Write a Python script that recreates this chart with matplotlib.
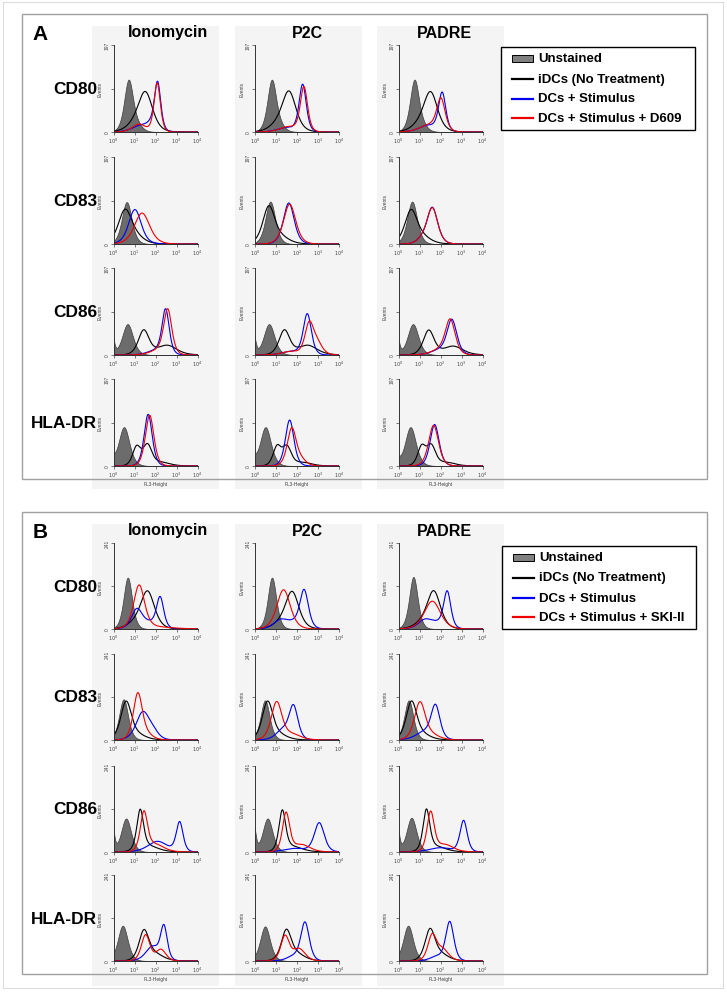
import numpy as np
import matplotlib
matplotlib.use("Agg")
import matplotlib.pyplot as plt
from matplotlib.patches import Rectangle
from matplotlib.ticker import NullLocator

plt.rcParams['font.family'] = ['Liberation Sans', 'DejaVu Sans']

# ---------------- data ----------------
columns = ["Ionomycin", "P2C", "PADRE"]
markers = ["CD80", "CD83", "CD86", "HLA-DR"]
legend_A = ["Unstained", "iDCs (No Treatment)", "DCs + Stimulus", "DCs + Stimulus + D609"]
legend_B = ["Unstained", "iDCs (No Treatment)", "DCs + Stimulus", "DCs + Stimulus + SKI-II"]
x_ticklabels = [r"$10^{0}$", r"$10^{1}$", r"$10^{2}$", r"$10^{3}$", r"$10^{4}$"]
A_ymax = 197
B_ymax = 241

# Each curve: list of peaks (log10 position, half-width scale in decades, events)
# order per column: [Unstained, iDCs, DCs+Stimulus, DCs+Stimulus+inhibitor]
A_CD80 = {
    "Ionomycin": [[(0.72, 0.20, 116), (1.15, 0.24, 10)],
                  [(1.52, 0.32, 86), (1.0, 0.4, 12)],
                  [(2.1, 0.14, 106), (1.3, 0.4, 14), (1.8, 0.24, 12)],
                  [(2.08, 0.14, 110), (1.22, 0.3, 18)]],
    "P2C":       [[(0.8, 0.20, 116), (1.2, 0.24, 8)],
                  [(1.62, 0.31, 88), (1.05, 0.4, 12)],
                  [(2.27, 0.16, 106), (1.5, 0.4, 10)],
                  [(2.33, 0.16, 100), (1.6, 0.4, 12)]],
    "PADRE":     [[(0.76, 0.20, 116), (1.15, 0.24, 8)],
                  [(1.53, 0.31, 86), (1.0, 0.4, 12)],
                  [(2.08, 0.16, 86), (1.4, 0.4, 15)],
                  [(2.02, 0.19, 72), (1.4, 0.4, 15)]],
}
A_CD83 = {
    "Ionomycin": [[(0.63, 0.22, 95)],
                  [(0.55, 0.30, 74), (1.1, 0.38, 12)],
                  [(1.02, 0.28, 78)],
                  [(1.36, 0.34, 70)]],
    "P2C":       [[(0.73, 0.22, 96)],
                  [(0.66, 0.27, 83), (1.3, 0.38, 12)],
                  [(1.61, 0.24, 93)],
                  [(1.65, 0.27, 90)]],
    "PADRE":     [[(0.65, 0.22, 96)],
                  [(0.6, 0.28, 74), (1.2, 0.38, 12)],
                  [(1.61, 0.24, 82), (1.1, 0.24, 8)],
                  [(1.61, 0.24, 81), (1.1, 0.24, 8)]],
}
A_CD86 = {
    "Ionomycin": [[(-0.05, 0.08, 38), (0.67, 0.24, 70)],
                  [(1.44, 0.24, 55), (2.55, 0.43, 22)],
                  [(2.48, 0.16, 100), (2.0, 0.38, 10)],
                  [(2.58, 0.18, 100), (2.1, 0.38, 10)]],
    "P2C":       [[(-0.05, 0.08, 38), (0.67, 0.24, 70)],
                  [(1.4, 0.24, 55), (2.5, 0.43, 22)],
                  [(2.49, 0.18, 92), (1.7, 0.4, 8)],
                  [(2.58, 0.19, 66), (2.95, 0.24, 26), (1.7, 0.4, 8)]],
    "PADRE":     [[(-0.05, 0.08, 38), (0.69, 0.24, 70)],
                  [(1.44, 0.24, 55), (2.6, 0.43, 20)],
                  [(2.54, 0.22, 78), (1.9, 0.38, 10)],
                  [(2.46, 0.22, 78), (1.9, 0.38, 10)]],
}
A_HLADR = {
    "Ionomycin": [[(0.5, 0.24, 88), (-0.05, 0.11, 12)],
                  [(1.1, 0.18, 42), (1.62, 0.2, 46), (2.3, 0.38, 8)],
                  [(1.65, 0.18, 117)],
                  [(1.72, 0.19, 115)]],
    "P2C":       [[(0.5, 0.24, 88), (-0.05, 0.11, 12)],
                  [(1.05, 0.18, 42), (1.52, 0.2, 42), (2.3, 0.38, 8)],
                  [(1.65, 0.19, 104)],
                  [(1.75, 0.2, 84), (2.2, 0.24, 12)]],
    "PADRE":     [[(0.57, 0.24, 88), (-0.05, 0.11, 12)],
                  [(1.1, 0.18, 42), (1.56, 0.2, 44), (2.3, 0.38, 8)],
                  [(1.72, 0.2, 94)],
                  [(1.67, 0.22, 92)]],
}
B_CD80 = {
    "Ionomycin": [[(0.68, 0.19, 144)],
                  [(1.62, 0.31, 103), (1.0, 0.38, 12)],
                  [(1.11, 0.24, 52), (2.22, 0.16, 84), (1.7, 0.38, 16)],
                  [(1.22, 0.24, 120), (2.0, 0.74, 6)]],
    "P2C":       [[(0.81, 0.19, 144)],
                  [(1.77, 0.3, 101), (1.2, 0.38, 12)],
                  [(2.34, 0.19, 104), (1.2, 0.3, 22), (1.8, 0.38, 16)],
                  [(1.36, 0.3, 110)]],
    "PADRE":     [[(0.71, 0.19, 146)],
                  [(1.68, 0.3, 103), (1.1, 0.38, 12)],
                  [(1.24, 0.3, 22), (2.32, 0.16, 100), (1.8, 0.38, 15)],
                  [(1.61, 0.36, 78)]],
}
B_CD83 = {
    "Ionomycin": [[(0.48, 0.2, 114)],
                  [(0.6, 0.24, 105), (1.2, 0.38, 12)],
                  [(1.40, 0.3, 77), (1.9, 0.24, 16)],
                  [(1.16, 0.2, 128), (1.6, 0.3, 12)]],
    "P2C":       [[(0.48, 0.2, 111)],
                  [(0.6, 0.24, 105), (1.2, 0.38, 12)],
                  [(1.83, 0.2, 92), (1.3, 0.3, 26)],
                  [(1.03, 0.24, 105), (1.8, 0.38, 15)]],
    "PADRE":     [[(0.49, 0.2, 111)],
                  [(0.62, 0.24, 105), (1.2, 0.38, 12)],
                  [(1.76, 0.2, 92), (1.2, 0.38, 21)],
                  [(1.02, 0.24, 103), (1.6, 0.38, 12)]],
}
B_CD86 = {
    "Ionomycin": [[(-0.05, 0.08, 66), (0.6, 0.22, 94)],
                  [(1.27, 0.15, 110), (1.7, 0.43, 16)],
                  [(2.1, 0.43, 30), (3.15, 0.15, 82)],
                  [(1.45, 0.16, 107), (2.0, 0.38, 21)]],
    "P2C":       [[(-0.05, 0.08, 66), (0.6, 0.22, 94)],
                  [(1.3, 0.15, 110), (1.8, 0.43, 15)],
                  [(1.9, 0.49, 10), (3.06, 0.22, 81)],
                  [(1.48, 0.16, 107), (2.2, 0.38, 21)]],
    "PADRE":     [[(-0.05, 0.08, 66), (0.62, 0.22, 96)],
                  [(1.33, 0.15, 112), (1.8, 0.43, 15)],
                  [(2.0, 0.49, 12), (3.1, 0.16, 87)],
                  [(1.53, 0.16, 109), (2.2, 0.38, 21)]],
}
B_HLADR = {
    "Ionomycin": [[(0.44, 0.22, 99)],
                  [(1.45, 0.22, 81), (2.0, 0.38, 18)],
                  [(2.4, 0.15, 92), (1.85, 0.3, 40)],
                  [(1.53, 0.19, 73), (2.26, 0.22, 32)]],
    "P2C":       [[(0.48, 0.22, 97)],
                  [(1.49, 0.22, 81), (2.0, 0.38, 18)],
                  [(2.38, 0.19, 107), (1.8, 0.3, 12)],
                  [(1.43, 0.19, 69), (2.1, 0.27, 34)]],
    "PADRE":     [[(0.46, 0.22, 99)],
                  [(1.5, 0.22, 83), (2.0, 0.38, 18)],
                  [(2.44, 0.18, 109), (1.8, 0.3, 12)],
                  [(1.6, 0.19, 69), (2.1, 0.27, 32)]],
}

# ---------------- layout ----------------
W, H = 727, 995
fig = plt.figure(figsize=(W / 100, H / 100), dpi=100)

ov = fig.add_axes([0, 0, 1, 1], zorder=-5)
ov.set_xlim(0, W)
ov.set_ylim(H, 0)
ov.axis("off")

ov.add_patch(Rectangle((3, 3), 720, 986, fill=False, ec="#dcdcdc", lw=0.8))

col_bg_x = [92, 235, 377]
col_bg_w = 127
col_left = [113.5, 255, 398.5]
ax_w = 84
title_x = [168, 307, 444]
line_colors = ["black", "#0000ee", "#ee0000"]

panels = [
    dict(letter="A", box=(22, 15, 685, 465), bg=(27, 490), title_y=33,
         bottoms=[133, 245, 356, 467], ax_h=87, ymax=A_ymax,
         data=[A_CD80, A_CD83, A_CD86, A_HLADR], legend=legend_A,
         leg=(501, 48), letter_xy=(32, 35)),
    dict(letter="B", box=(22, 513, 685, 462), bg=(525, 987), title_y=531,
         bottoms=[630, 741, 853, 962], ax_h=86, ymax=B_ymax,
         data=[B_CD80, B_CD83, B_CD86, B_HLADR], legend=legend_B,
         leg=(502, 547), letter_xy=(33, 533)),
]

d = np.linspace(-0.02, 4, 600)
xs = 10 ** d


def curve(peaks):
    """histogram outline: each peak drawn as a pointed hump with moderate tails"""
    y = np.zeros_like(d)
    for m, s, h in peaks:
        z = (d - m) / s
        y += h / np.cosh(0.705 * z) ** 2
    return y


for P in panels:
    for cx in col_bg_x:
        ov.add_patch(Rectangle((cx, P["bg"][0]), col_bg_w, P["bg"][1] - P["bg"][0],
                               fc="#f4f4f4", ec="none", zorder=0))
    bx, by, bw, bh = P["box"]
    ov.add_patch(Rectangle((bx, by), bw, bh, fill=False, ec="#a0a0a0", lw=1.0, zorder=2))
    ov.text(P["letter_xy"][0], P["letter_xy"][1], P["letter"], fontsize=15,
            fontweight="bold", ha="left", va="center")
    for ci, col in enumerate(columns):
        ov.text(title_x[ci], P["title_y"], col, fontsize=11.5, fontweight="bold",
                ha="center", va="center")
    lx, ly = P["leg"]
    ov.add_patch(Rectangle((lx, ly), 194, 83, fc="white", ec="black", lw=1.0, zorder=3))
    offs = [11, 31.5, 51.5, 71]
    for k, lab in enumerate(P["legend"]):
        yy = ly + offs[k]
        if k == 0:
            ov.add_patch(Rectangle((lx + 11, yy - 3.5), 21, 7, fc="#808080",
                                   ec="black", lw=0.7, zorder=4))
        else:
            ov.plot([lx + 11, lx + 32], [yy, yy], color=line_colors[k - 1], lw=1.6, zorder=4)
        ov.text(lx + 37, yy, lab, fontsize=9.5, fontweight="bold", ha="left",
                va="center", zorder=4)

    for ri, mk in enumerate(markers):
        bottom = P["bottoms"][ri]
        ov.text(97, bottom - P["ax_h"] / 2, mk, fontsize=12.4, fontweight="bold",
                ha="right", va="center")
        for ci, col in enumerate(columns):
            ax = fig.add_axes([col_left[ci] / W, 1 - bottom / H, ax_w / W, P["ax_h"] / H])
            ax.set_facecolor("none")
            series = P["data"][ri][col]
            yU = curve(series[0])
            ax.fill_between(xs, 0, yU, facecolor="#6c6c6c", edgecolor="#3c3c3c", lw=0.5)
            for k in range(1, 4):
                ax.plot(xs, curve(series[k]), color=line_colors[k - 1], lw=0.8)
            ax.set_xscale("log")
            ax.set_xlim(1, 1e4)
            ax.set_ylim(0, P["ymax"])
            ax.set_xticks([1, 10, 100, 1000, 10000])
            ax.set_xticklabels(x_ticklabels)
            ax.xaxis.set_minor_locator(NullLocator())
            ax.set_yticks([0, P["ymax"] / 2, P["ymax"]])
            ax.set_yticklabels(["0", "", str(P["ymax"])], rotation=90, va="center")
            ax.tick_params(axis="both", length=2, width=0.5, labelsize=3.5, pad=1,
                           colors="#444444")
            for s in ["top", "right"]:
                ax.spines[s].set_visible(False)
            for s in ["left", "bottom"]:
                ax.spines[s].set_linewidth(0.7)
                ax.spines[s].set_color("#333333")
            ax.set_ylabel("Events", fontsize=3.5, labelpad=1, color="#444444")
            if ri == 3:
                ax.set_xlabel("FL3-Height", fontsize=3.5, labelpad=1, color="#444444")

fig.savefig("out.png", dpi=100, facecolor="white")
